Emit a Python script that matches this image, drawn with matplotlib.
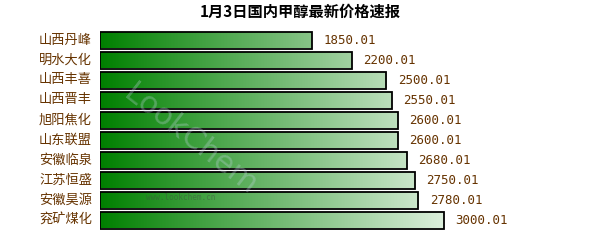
import matplotlib
matplotlib.use('Agg')
import matplotlib.pyplot as plt
import numpy as np
from matplotlib.colors import LinearSegmentedColormap
from matplotlib.patches import Rectangle

plt.rcParams['font.family'] = ['Noto Sans CJK SC', 'DejaVu Sans']

## data, top to bottom
companies = ['山西丹峰', '明水大化', '山西丰喜', '山西晋丰', '旭阳焦化',
             '山东联盟', '安徽临泉', '江苏恒盛', '安徽昊源', '兖矿煤化']
prices = [1850.01, 2200.01, 2500.01, 2550.01, 2600.01,
          2600.01, 2680.01, 2750.01, 2780.01, 3000.01]
title = '1月3日国内甲醇最新价格速报'

W, H = 600, 250
fig = plt.figure(figsize=(W / 100, H / 100), dpi=100)
## axes spans x 100..600 px, y 30..230 px
ax = fig.add_axes([100 / W, 20 / H, 500 / W, 200 / H])
ax.set_xlim(0, 500 / (343.5 / max(prices)))
ax.axis('off')

cmap = LinearSegmentedColormap.from_list('g', ['#008000', '#dcefdc'])
grad = np.linspace(0, 1, 256).reshape(1, -1)
gmax = max(prices)
bh = 0.85

for i, (name, val) in enumerate(zip(companies, prices)):
    rect = Rectangle((0, i - bh / 2), val, bh, facecolor='none',
                     edgecolor='black', linewidth=1.3, zorder=3)
    ax.add_patch(rect)
    im = ax.imshow(grad, cmap=cmap, aspect='auto',
                   extent=(0, gmax, i + bh / 2, i - bh / 2), zorder=2)
    im.set_clip_path(rect)
    ax.text(val + 100, i, '%.2f' % val, va='center', ha='left',
            fontsize=9, color='#663300', family='DejaVu Sans Mono')
    ax.text(-70, i, name, va='center', ha='right', fontsize=9.5,
            color='#663300')

ax.set_ylim(len(companies) - 0.5, -0.5)

## watermark
fig.text(146 / W, 1 - 197 / H, 'www.lookchem.cn', fontsize=5.5,
         color='#444444', alpha=0.45, va='center', family='DejaVu Sans Mono')
fig.text(190 / W, 1 - 140 / H, 'LookChem', fontsize=22, color='#c8d8e8',
         alpha=0.3, rotation=-38, ha='center', va='center',
         family='DejaVu Sans')

fig.text(0.5, 1 - 12 / H, title, ha='center', va='center', fontsize=11,
         fontweight='bold', color='black')

fig.savefig('out.png', dpi=100)
